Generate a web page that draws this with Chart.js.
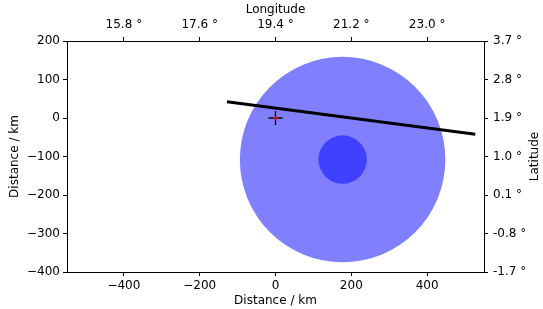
<!DOCTYPE html>
<html>
<head>
<meta charset="utf-8">
<script src="https://cdn.jsdelivr.net/npm/chart.js@4"></script>
<style>
    html, body { margin: 0; padding: 0; background: #fff; }
    #wrap { width: 543px; height: 309px; }
</style>
</head>
<body>
<div id="wrap"><canvas id="mapChart" width="543" height="309"></canvas></div>
<script>
// Axis ticks (km) and the degree labels that go with them
const xTickKm = [-400, -200, 0, 200, 400];
const lonLabels = ['15.8', '17.6', '19.4', '21.2', '23.0'];
const yTickKm = [200, 100, 0, -100, -200, -300, -400];
const latLabels = ['3.7', '2.8', '1.9', '1.0', '0.1', '-0.8', '-1.7'];

// Shapes, in km
const outerZone = { x: 177, y: -108, r: 271 };
const innerZone = { x: 177, y: -108, r: 64 };
const trackX = [-128, 527];
const trackY = [42, -42];
const originX = [0];
const originY = [0];

const FONT = { family: 'DejaVu Sans', size: 12 };
const DEG = ' \u00b0';

// radius in km -> pixels, through the x scale
function kmRadius(zone) {
    return ctx => {
        const s = ctx.chart.scales.x;
        return Math.abs(s.getPixelForValue(zone.x + zone.r) - s.getPixelForValue(zone.x));
    };
}

function fixedSize(prop, size) {
    return scale => { scale[prop] = size; };
}

function axis(position, ticks, labelFn, title, titlePad, size, tickPad) {
    const horizontal = position === 'top' || position === 'bottom';
    return {
        type: 'linear',
        position: position,
        min: horizontal ? -550 : -400,
        max: horizontal ? 550 : 200,
        afterBuildTicks: scale => { scale.ticks = ticks.map(v => ({ value: v })); },
        afterFit: fixedSize(horizontal ? 'height' : 'width', size),
        grid: { drawOnChartArea: false, drawTicks: true, tickLength: 4, tickColor: '#000', color: '#000' },
        border: { display: true, color: '#000', width: 1 },
        ticks: {
            color: '#000',
            font: FONT,
            padding: tickPad,
            maxRotation: 0,
            autoSkip: false,
            callback: (value, i) => labelFn(value, i)
        },
        title: { display: !!title, text: title, color: '#000', font: FONT, padding: titlePad }
    };
}

const minus = v => String(v).replace('-', '\u2212');

// matplotlib keeps the right-hand label reading bottom-to-top
const rightTitle = {
    id: 'rightTitle',
    afterDraw(chart) {
        const { ctx, chartArea } = chart;
        ctx.save();
        ctx.translate(535, (chartArea.top + chartArea.bottom) / 2);
        ctx.rotate(-Math.PI / 2);
        ctx.font = '12px "DejaVu Sans"';
        ctx.fillStyle = '#000';
        ctx.textAlign = 'center';
        ctx.textBaseline = 'middle';
        ctx.fillText('Latitude', 0, 0);
        ctx.restore();
    }
};

new Chart(document.getElementById('mapChart').getContext('2d'), {
    type: 'scatter',
    data: {
        datasets: [
            {
                data: originX.map((x, i) => ({ x: x, y: originY[i] })),
                pointStyle: 'cross',
                pointRadius: 2.5,
                borderColor: '#e00000',
                borderWidth: 1.6,
                order: -1
            },
            {
                data: originX.map((x, i) => ({ x: x, y: originY[i] })),
                pointStyle: 'cross',
                pointRadius: 7,
                borderColor: '#000',
                borderWidth: 1.3,
                order: 0
            },
            {
                data: trackX.map((x, i) => ({ x: x, y: trackY[i] })),
                showLine: true,
                borderColor: '#000',
                borderWidth: 3,
                pointRadius: 0,
                order: 1
            },
            {
                data: [{ x: innerZone.x, y: innerZone.y }],
                pointRadius: kmRadius(innerZone),
                backgroundColor: '#4040ff',
                borderWidth: 0,
                order: 2
            },
            {
                data: [{ x: outerZone.x, y: outerZone.y }],
                pointRadius: kmRadius(outerZone),
                backgroundColor: '#8080ff',
                borderWidth: 0,
                order: 3
            }
        ]
    },
    options: {
        responsive: false,
        animation: false,
        layout: { padding: 0 },
        plugins: { legend: { display: false }, tooltip: { enabled: false } },
        scales: {
            x: axis('bottom', xTickKm, v => minus(v), 'Distance / km', { top: 0, bottom: 1 }, 37, 3),
            x2: axis('top', xTickKm, (v, i) => lonLabels[i] + DEG, 'Longitude', { top: 3, bottom: 0 }, 41, 5),
            y: axis('left', yTickKm, v => minus(v), 'Distance / km', { top: 8, bottom: 0 }, 67, 3),
            y2: axis('right', yTickKm, (v, i) => latLabels[i] + DEG, '', { top: 1, bottom: 0 }, 59, 5)
        }
    },
    plugins: [rightTitle]
});
</script>
</body>
</html>
